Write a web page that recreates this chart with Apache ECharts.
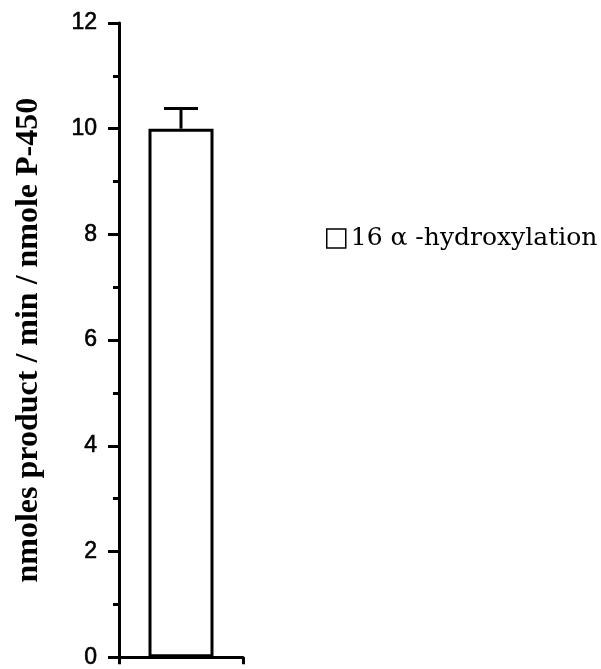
<!DOCTYPE html>
<html>
<head>
<meta charset="utf-8">
<script src="https://cdn.jsdelivr.net/npm/echarts@6/dist/echarts.min.js"></script>
<style>
  html, body { margin: 0; padding: 0; background: #fff; }
  #chart { width: 601px; height: 669px; }
</style>
</head>
<body>
<div id="chart"></div>
<script>
// Hydroxylation activity: mean rate and upper error bound
const categories = ['16α-hydroxylation'];
const meanValues = [10.0];
const upperValues = [10.38];
const yTicks = { min: 0, max: 12, interval: 2 };
const legendLabel = '16 α -hydroxylation';
const axisTitle = 'nmoles product / min / nmole P-450';

const chart = echarts.init(document.getElementById('chart'), null, { renderer: 'canvas' });

chart.setOption({
  animation: false,
  backgroundColor: '#ffffff',
  grid: { left: 119, right: 358, top: 23, bottom: 10, containLabel: false },
  legend: {
    data: [legendLabel],
    left: 321,
    top: 221,
    itemWidth: 19,
    itemHeight: 19,
    icon: 'rect',
    textStyle: { fontFamily: 'DejaVu Serif', fontSize: 25, color: '#000' },
    itemStyle: { color: '#fff', borderColor: '#000', borderWidth: 1.5 }
  },
  xAxis: {
    type: 'category',
    data: categories,
    boundaryGap: true,
    axisLine: { show: true, lineStyle: { color: '#000', width: 3 } },
    axisTick: { show: true, inside: false, length: 7, lineStyle: { color: '#000', width: 3 } },
    axisLabel: { show: false },
    splitLine: { show: false }
  },
  yAxis: {
    type: 'value',
    min: yTicks.min,
    max: yTicks.max,
    interval: yTicks.interval,
    name: axisTitle,
    nameLocation: 'middle',
    nameGap: 74,
    nameTextStyle: { fontFamily: 'Liberation Serif', fontWeight: 'bold', fontSize: 32, color: '#000' },
    axisLine: { show: true, lineStyle: { color: '#000', width: 3 } },
    axisTick: { show: true, inside: false, length: 11, lineStyle: { color: '#000', width: 3 } },
    minorTick: { show: true, splitNumber: 2, length: 6, lineStyle: { color: '#000', width: 3 } },
    axisLabel: {
      margin: 22, fontFamily: 'Liberation Sans', fontSize: 23, color: '#000',
      textBorderColor: '#000', textBorderWidth: 0.6
    },
    splitLine: { show: false }
  },
  series: [
    {
      name: legendLabel,
      type: 'bar',
      data: meanValues,
      barWidth: 65,
      itemStyle: { color: '#fff', borderColor: '#000', borderWidth: 3 }
    },
    {
      name: 'error',
      type: 'custom',
      data: upperValues.map((u, i) => [i, meanValues[i], u]),
      renderItem: function (params, api) {
        const base = api.coord([api.value(0), api.value(1)]);
        const top = api.coord([api.value(0), api.value(2)]);
        const half = 17;
        return {
          type: 'group',
          children: [
            { type: 'line', shape: { x1: base[0], y1: base[1], x2: top[0], y2: top[1] },
              style: { stroke: '#000', lineWidth: 3 } },
            { type: 'line', shape: { x1: top[0] - half, y1: top[1], x2: top[0] + half, y2: top[1] },
              style: { stroke: '#000', lineWidth: 3 } }
          ]
        };
      },
      z: 3
    }
  ]
});
</script>
</body>
</html>
